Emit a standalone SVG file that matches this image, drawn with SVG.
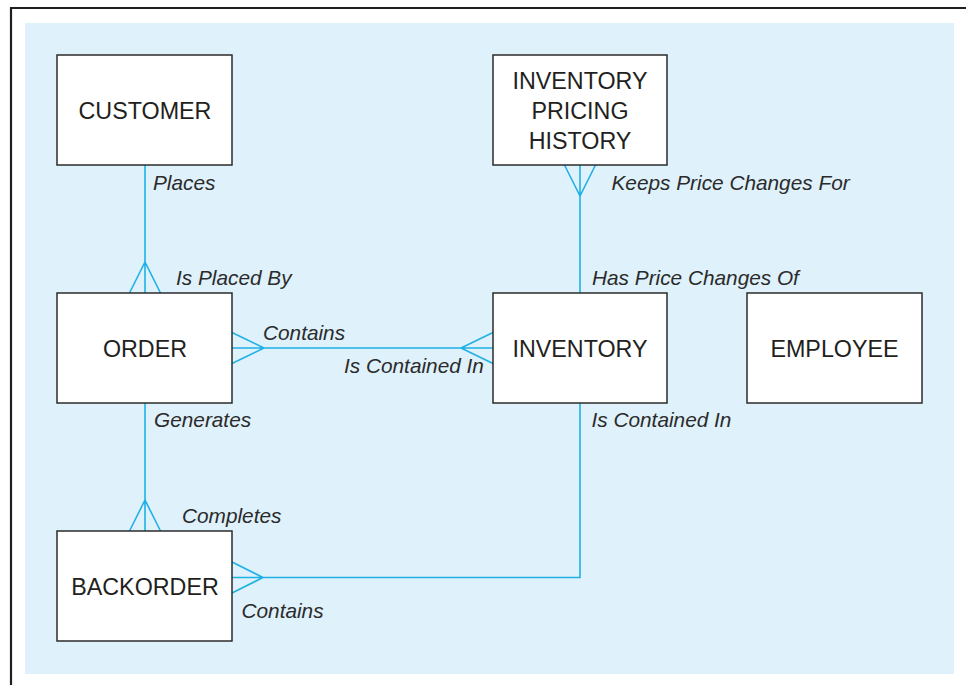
<svg xmlns="http://www.w3.org/2000/svg" width="966" height="685" viewBox="0 0 966 685">
<style>
.ent{fill:#ffffff;stroke:#2b2b2b;stroke-width:1.5}
.et{font-family:"Liberation Sans",Arial,sans-serif;font-size:23.3px;fill:#231f20;text-anchor:middle}
.lb{font-family:"Liberation Sans",Arial,sans-serif;font-size:20.8px;font-style:italic;fill:#2b2b2b}
.cn{fill:none;stroke:#1fb1e6;stroke-width:1.6}
</style>
<rect x="0" y="0" width="966" height="685" fill="#ffffff"/>
<path d="M11 685 V8 H966" fill="none" stroke="#231f20" stroke-width="2.2"/>
<rect x="25" y="23" width="929" height="651" fill="#dff1fb"/>
<g id="connectors">
<path class="cn" d="M145 165 V293 M129.5 293 L145 262 L160.5 293"/>
<path class="cn" d="M232 348 H493 M232 332.5 L264 348 L232 363.5 M493 332.5 L461 348 L493 363.5"/>
<path class="cn" d="M580 165 V293 M564.5 165 L580 196 L595.5 165"/>
<path class="cn" d="M145 403 V531 M129.5 531 L145 500 L160.5 531"/>
<path class="cn" d="M232 577.5 H580 V403 M232 562 L263 577.5 L232 593"/>
<text class="lb" x="153" y="190">Places</text>
<text class="lb" x="176" y="285">Is Placed By</text>
<text class="lb" x="263" y="340">Contains</text>
<text class="lb" x="344" y="373">Is Contained In</text>
<text class="lb" x="611.5" y="189.5">Keeps Price Changes For</text>
<text class="lb" x="592" y="285">Has Price Changes Of</text>
<text class="lb" x="154" y="427">Generates</text>
<text class="lb" x="591.5" y="427">Is Contained In</text>
<text class="lb" x="182" y="523">Completes</text>
<text class="lb" x="241.5" y="618">Contains</text>
</g>
<g id="customer"><rect class="ent" x="57" y="55" width="175" height="110"/><text class="et" x="145" y="119">CUSTOMER</text></g>
<g id="order"><rect class="ent" x="57" y="293" width="175" height="110"/><text class="et" x="145" y="356.5">ORDER</text></g>
<g id="backorder"><rect class="ent" x="57" y="531" width="175" height="110"/><text class="et" x="145" y="594.5">BACKORDER</text></g>
<g id="inventory-pricing-history"><rect class="ent" x="493" y="55" width="174" height="110"/><text class="et" x="580" y="89">INVENTORY</text><text class="et" x="580" y="119">PRICING</text><text class="et" x="580" y="148.5">HISTORY</text></g>
<g id="inventory"><rect class="ent" x="493" y="293" width="174" height="110"/><text class="et" x="580" y="356.5">INVENTORY</text></g>
<g id="employee"><rect class="ent" x="747" y="293" width="175" height="110"/><text class="et" x="834.5" y="356.5">EMPLOYEE</text></g>
</svg>
